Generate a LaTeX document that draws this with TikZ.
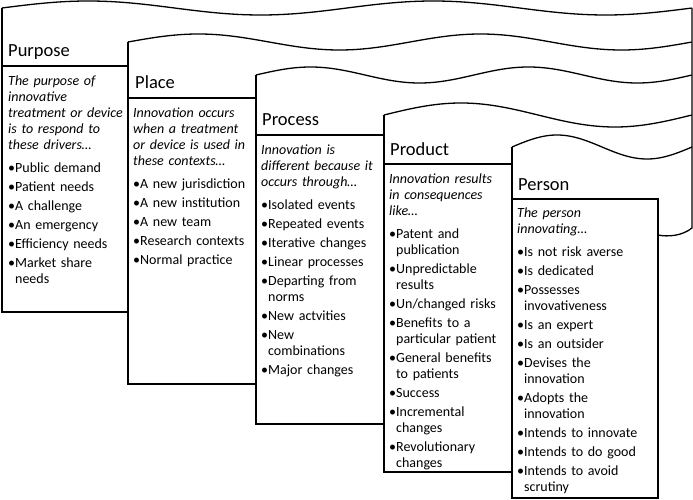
\documentclass[tikz,border=0pt]{standalone}
\usepackage{fontspec}
\setmainfont{Carlito}
\usetikzlibrary{calc,positioning}
\tikzset{>=latex}
\newlength\bulw
\newcommand\lead[1]{\noindent{\itshape #1}\par\vspace{4pt}}
\newcommand\bul[1]{\hangindent=\bulw\hangafter=1\noindent\makebox[\bulw][l]{•}#1\par}

\begin{document}
\begin{tikzpicture}[x=1pt,y=-1pt,
	edge/.style={line width=1.3pt, line join=miter},
	head/.style={anchor=base west, inner sep=0pt, font=\fontsize{18.5}{22}\selectfont},
	body/.style={anchor=north west, inner sep=0pt, text width=150pt, align=left,
		font=\fontsize{14}{16}\selectfont,
		execute at begin node={\setlength\parskip{3pt}\settowidth\bulw{•}}}]
		\useasboundingbox (0,0) rectangle (693,500);
		\foreach \xl/\yt/\cyc/\amp in {2/8/2/7, 128/42/2/8, 256/75/2/8, 384/115/1/12, 512/147/1/12}
			\draw[edge,variable=\t,domain=0:1,samples=90,smooth] plot ({\xl+\t*(692-\xl)},{\yt-\amp*sin(360*\cyc*\t)});
		\foreach \xl/\yt/\yh/\yb/\xr in {2/8/66/312/128, 128/42/98/384/256, 256/75/135/424/384, 384/115/164/472/512, 512/147/199/498/658}
			\draw[edge] (\xl,\yt) -- (\xl,\yb) -- (\xr,\yb) -- (\xr,\yh) -- (\xl,\yh);
		\draw[edge] (692,8) -- (692,228) .. controls (682,236) and (668,237) .. (658,235);

		\node[head] (purposeHead) at (8,57) {Purpose};
		\node[head] (placeHead) at (135,89) {Place};
		\node[head] (processHead) at (262,125) {Process};
		\node[head] (productHead) at (390,155) {Product};
		\node[head] (personHead) at (518,190) {Person};

		\node[body] (purposeText) at (8,76) {\lead{The purpose of\newline innovative\newline treatment or device\newline is to respond to\newline these drivers…}%
			\bul{Public demand}\bul{Patient needs}\bul{A challenge}\bul{An emergency}\bul{Efficiency needs}\bul{Market share\newline needs}};
		\node[body] (placeText) at (133,108) {\lead{Innovation occurs\newline when a treatment\newline or device is used in\newline these contexts…}%
			\bul{A new jurisdiction}\bul{A new institution}\bul{A new team}\bul{Research contexts}\bul{Normal practice}};
		\node[body] (processText) at (261,145) {\lead{Innovation is\newline different because it\newline occurs through…}%
			\bul{Isolated events}\bul{Repeated events}\bul{Iterative changes}\bul{Linear processes}\bul{Departing from\newline norms}\bul{New actvities}\bul{New\newline combinations}\bul{Major changes}};
		\node[body] (productText) at (389,174) {\lead{Innovation results\newline in consequences\newline like…}%
			\bul{Patent and\newline publication}\bul{Unpredictable\newline results}\bul{Un/changed risks}\bul{Benefits to a\newline particular patient}\bul{General benefits\newline to patients}\bul{Success}\bul{Incremental\newline changes}\bul{Revolutionary\newline changes}};
		\node[body] (personText) at (517,208) {\lead{The person\newline innovating…}%
			\bul{Is not risk averse}\bul{Is dedicated}\bul{Possesses\newline invovativeness}\bul{Is an expert}\bul{Is an outsider}\bul{Devises the\newline innovation}\bul{Adopts the\newline innovation}\bul{Intends to innovate}\bul{Intends to do good}\bul{Intends to avoid\newline scrutiny}};
	\end{tikzpicture}
\end{document}
